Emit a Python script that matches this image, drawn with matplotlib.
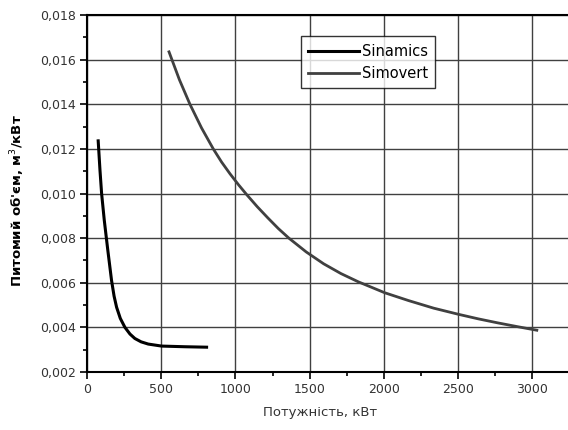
import matplotlib
matplotlib.use("Agg")
import matplotlib.pyplot as plt
from matplotlib.ticker import MultipleLocator, FuncFormatter

# --- data ---
sinamics_p = [76, 88, 99, 117, 140, 166, 183, 200, 225, 256, 290, 323, 365, 413, 503, 660, 806]
sinamics_v = [0.01236, 0.01105, 0.0100, 0.0088, 0.0075, 0.0061, 0.0054, 0.0049, 0.0044,
              0.0040, 0.0037, 0.0035, 0.00335, 0.00325, 0.00316, 0.00313, 0.00311]

simovert_p = [553, 623, 694, 772, 851, 907, 963, 1020, 1076, 1147, 1218, 1289, 1360,
              1477, 1594, 1711, 1828, 2006, 2166, 2335, 2505, 2636, 2767, 2900, 3030]
simovert_v = [0.01635, 0.01510, 0.01400, 0.01294, 0.01200, 0.01141, 0.01089, 0.01040,
              0.00995, 0.00941, 0.00891, 0.00843, 0.00800, 0.00738, 0.00685, 0.00641,
              0.00604, 0.00555, 0.00520, 0.00486, 0.00458, 0.00438, 0.00420, 0.00403,
              0.00387]

plt.rcParams["font.family"] = ["DejaVu Sans"]

fig = plt.figure(figsize=(5.68, 4.30), dpi=100)
ax = fig.add_axes([0.153, 0.135, 0.847, 0.830])

ax.plot(sinamics_p, sinamics_v, color="black", lw=2.2, label="Sinamics")
ax.plot(simovert_p, simovert_v, color="#404040", lw=2.0, label="Simovert")

ax.set_xlim(0, 3240)
ax.set_ylim(0.002, 0.018)
ax.xaxis.set_major_locator(MultipleLocator(500))
ax.xaxis.set_minor_locator(MultipleLocator(250))
ax.yaxis.set_major_locator(MultipleLocator(0.002))
ax.yaxis.set_minor_locator(MultipleLocator(0.001))
ax.yaxis.set_major_formatter(FuncFormatter(lambda v, _: f"{v:.3f}".replace(".", ",")))

ax.grid(True, which="major", color="#404040", lw=1.0)
ax.tick_params(which="major", direction="out", length=5, width=1.2, labelsize=9,
               labelcolor="#333333", pad=3)
ax.tick_params(which="minor", direction="out", length=3, width=1.2)
for side in ["left", "bottom", "top"]:
    ax.spines[side].set_linewidth(1.5)
ax.spines["right"].set_visible(False)

ax.set_xlabel("Потужність, кВт", fontsize=9.5, color="#333333")
ax.xaxis.set_label_coords(0.484, -0.095)
ax.set_ylabel("Питомий об'єм, м$^3$/кВт", fontsize=9.5, fontweight="bold")
ax.yaxis.set_label_coords(-0.125, 0.48)

leg = ax.legend(loc="upper left", bbox_to_anchor=(0.445, 0.94), fontsize=10.5,
                frameon=True, fancybox=False, handlelength=3.5, handletextpad=0.15,
                borderpad=0.5, labelspacing=0.5, borderaxespad=0)
leg.get_frame().set_edgecolor("black")
leg.get_frame().set_linewidth(1.0)

fig.savefig("out.png", dpi=100)
